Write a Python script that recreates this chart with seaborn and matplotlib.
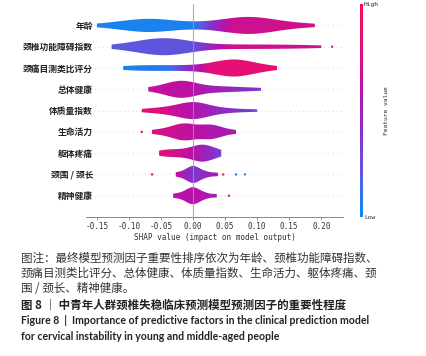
import numpy as np
import pandas as pd
import seaborn as sns
import matplotlib.pyplot as plt
from matplotlib.colors import LinearSegmentedColormap

features = ["年龄", "颈椎功能障碍指数", "颈痛目测类比评分", "总体健康", "体质量指数",
            "生命活力", "躯体疼痛", "颈围 / 颈长", "精神健康"]

# SHAP values (hand-placed samples that reproduce each shape)
shap_age = [-0.15, -0.12, -0.10, -0.09, -0.08, -0.075, -0.07, -0.065, -0.06, -0.05,
            -0.04, -0.02, 0.00, 0.02, 0.04, 0.055, 0.065, 0.07, 0.075, 0.08, 0.085, 0.09,
            0.095, 0.10, 0.105, 0.11, 0.12, 0.14, 0.16, 0.19]
shap_ndi = [-0.127, -0.10, -0.08, -0.07, -0.06, -0.055, -0.05, -0.048, -0.045, -0.04, -0.035,
            -0.03, -0.02, -0.01, 0.01, 0.04, 0.07, 0.10, 0.13, 0.16, 0.20]
shap_vas = [-0.109, -0.09, -0.07, -0.05, -0.03, -0.01, 0.01, 0.03, 0.045, 0.05, 0.055, 0.06,
            0.062, 0.065, 0.07, 0.075, 0.08, 0.09, 0.105, 0.131]
shap_gh = [-0.07, -0.05, -0.04, -0.032, -0.027, -0.023, -0.02, -0.017, -0.013, -0.008, -0.002,
           0.005, 0.015, 0.03, 0.045, 0.06, 0.08, 0.106]
shap_bmi = [-0.08, -0.06, -0.045, -0.035, -0.025, -0.018, -0.012, -0.007, -0.003, 0.0, 0.003,
            0.007, 0.012, 0.018, 0.025, 0.035, 0.05, 0.07, 0.10]
shap_vt = [-0.064, -0.045, -0.033, -0.025, -0.02, -0.016, -0.012, -0.008, -0.002, 0.006, 0.015,
           0.022, 0.027, 0.031, 0.036, 0.045, 0.067]
shap_bp = [-0.053, -0.042, -0.032, -0.022, -0.012, -0.004, 0.003, 0.008, 0.012, 0.015, 0.018,
           0.022, 0.028, 0.035, 0.044]
shap_neck = [-0.027, -0.016, -0.009, -0.005, -0.002, 0.0, 0.002, 0.005, 0.009, 0.015, 0.024, 0.039]
shap_mh = [-0.031, -0.018, -0.01, -0.005, -0.002, 0.0, 0.002, 0.006, 0.012, 0.02, 0.037]
shap_values = [shap_age, shap_ndi, shap_vas, shap_gh, shap_bmi, shap_vt, shap_bp, shap_neck, shap_mh]

# feature-value colour along each violin: (shap position, feature level 0..1)
color_x = [[-0.15, 0.0, 0.03, 0.06, 0.19],
           [-0.127, 0.0, 0.03, 0.06, 0.2],
           [-0.109, -0.04, 0.0, 0.03, 0.131],
           [-0.07, -0.01, 0.03, 0.106],
           [-0.08, -0.03, 0.02, 0.1],
           [-0.064, -0.01, 0.03, 0.067],
           [-0.053, -0.01, 0.015, 0.044],
           [-0.027, 0.0, 0.039],
           [-0.031, 0.0, 0.037]]
color_v = [[0.03, 0.05, 0.4, 0.7, 0.72],
           [0.2, 0.24, 0.5, 0.7, 0.72],
           [0.03, 0.08, 0.5, 0.82, 0.84],
           [0.66, 0.62, 0.5, 0.35],
           [0.85, 0.68, 0.5, 0.3],
           [0.75, 0.65, 0.55, 0.55],
           [0.82, 0.65, 0.5, 0.3],
           [0.65, 0.35, 0.55],
           [0.62, 0.6, 0.5]]

# outlier dots
dot_feature = ["颈椎功能障碍指数", "生命活力", "颈围 / 颈长", "颈围 / 颈长", "颈围 / 颈长", "颈围 / 颈长", "精神健康"]
dot_shap = [0.217, -0.08, -0.064, 0.047, 0.067, 0.081, 0.056]
dot_level = [0.7, 0.85, 0.75, 0.85, 0.05, 0.05, 0.7]

df = pd.concat([pd.DataFrame({"feature": f, "shap": v}) for f, v in zip(features, shap_values)])

cmap = LinearSegmentedColormap.from_list(
    "shap", ["#0a8cf0", "#5a5ae0", "#8a2ec8", "#b812a8", "#e0107a", "#ff0a50"])

sns.set_theme(style="white")
plt.rcParams['font.family'] = ['Noto Sans CJK SC', 'DejaVu Sans']
plt.rcParams['axes.unicode_minus'] = False

fig = plt.figure(figsize=(4.27, 3.56), dpi=100)
ax = fig.add_axes([0.2014, 0.3904, 0.602, 0.598])

sns.violinplot(data=df, x="shap", y="feature", order=features, orient="h", inner=None,
               cut=0, density_norm="width", width=0.8, bw_adjust=0.72, linewidth=0,
               gridsize=200, color="#888888", ax=ax)

x0, x1 = -0.167, 0.234
xgrid = np.linspace(x0, x1, 400)
for i, coll in enumerate(list(ax.collections)[:len(features)]):
    path = coll.get_paths()[0]
    coll.set_facecolor("none")
    lv = np.interp(xgrid, color_x[i], color_v[i])
    im = ax.imshow(lv[np.newaxis, :], cmap=cmap, vmin=0, vmax=1, aspect="auto",
                   extent=[x0, x1, i + 0.5, i - 0.5], interpolation="bilinear", zorder=2)
    im.set_clip_path(path, transform=coll.get_transform())

dot_y = [features.index(f) for f in dot_feature]
ax.scatter(dot_shap, dot_y, c=dot_level, cmap=cmap, vmin=0, vmax=1, s=3, linewidths=0, zorder=3)

for i in range(len(features)):
    ax.axhline(i, color="#cccccc", lw=0.6, dashes=(1, 4), zorder=0)
ax.axvline(0, color="#999999", lw=0.8, alpha=0.8, zorder=4)

ax.set_xlim(x0, x1)
ax.set_ylim(len(features), -1)
ax.set_xticks([-0.15, -0.10, -0.05, 0.00, 0.05, 0.10, 0.15, 0.20])
ax.set_xticklabels(["%.2f" % t for t in ax.get_xticks()], family="DejaVu Sans Mono", size=5.5, color="#333333")
ax.set_xlabel("SHAP value (impact on model output)", family="DejaVu Sans Mono", size=5.5,
              color="#333333", labelpad=1.5)
ax.set_ylabel("")
for s in ["left", "top", "right"]:
    ax.spines[s].set_visible(False)
ax.spines["bottom"].set_color("#888888")
ax.spines["bottom"].set_linewidth(0.7)
ax.tick_params(axis="x", length=2, width=0.6, color="#888888", pad=1.5, bottom=True)
ax.tick_params(axis="y", length=0, pad=-5)
for lab in ax.get_yticklabels():
    lab.set_fontsize(6.3)
    lab.set_fontweight("bold")
    lab.set_color("#222222")

cax = fig.add_axes([360 / 427, 0.3904, 2.5 / 427, 0.598])
cb = fig.colorbar(plt.cm.ScalarMappable(cmap=cmap), cax=cax, ticks=[0, 1])
cb.set_ticklabels(["Low", "High"])
cb.outline.set_visible(False)
cax.tick_params(length=0, labelsize=4.5, pad=1)
for lab in cax.get_yticklabels():
    lab.set_family("DejaVu Sans Mono")
cb.set_label("Feature value", family="DejaVu Sans Mono", size=4.5, labelpad=4)

note_lines = ["图注：最终模型预测因子重要性排序依次为年龄、颈椎功能障碍指数、",
              "颈痛目测类比评分、总体健康、体质量指数、生命活力、躯体疼痛、颈",
              "围 / 颈长、精神健康。"]
for k, line in enumerate(note_lines):
    fig.text(21 / 427, 1 - (258 + 15 * k) / 356, line, size=8.3, color="#333333", va="center")
fig.text(21 / 427, 1 - 305 / 356, "图 8 ｜ 中青年人群颈椎失稳临床预测模型预测因子的重要性程度",
         size=8.3, color="#222222", weight="bold", va="center")
fig.text(21 / 427, 1 - 321 / 356,
         "Figure 8  |  Importance of predictive factors in the clinical prediction model",
         size=7.6, color="#222222", weight="bold", family="Lato", va="center")
fig.text(21 / 427, 1 - 336 / 356,
         "for cervical instability in young and middle-aged people",
         size=7.6, color="#222222", weight="bold", family="Lato", va="center")

fig.savefig("out.png", dpi=100)
